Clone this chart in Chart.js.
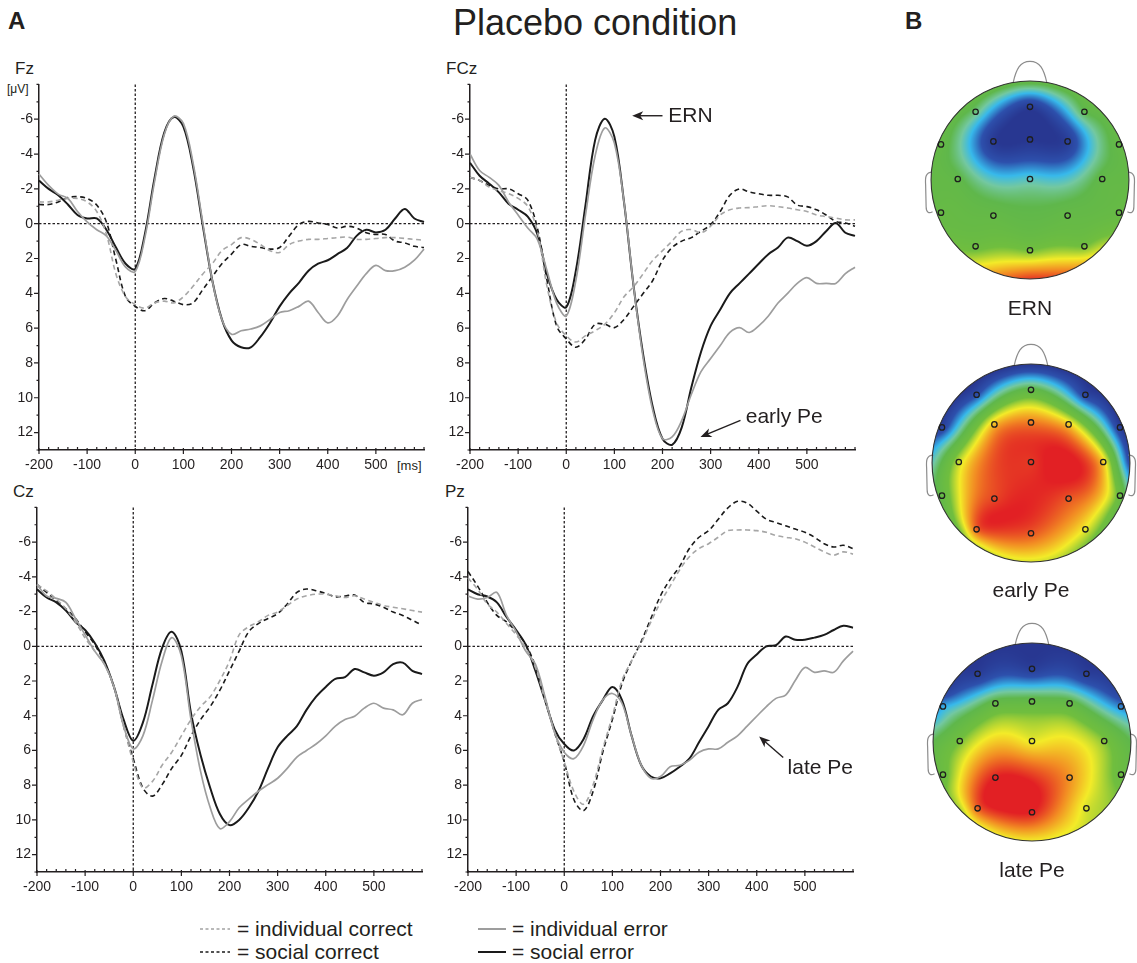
<!DOCTYPE html>
<html>
<head>
    <meta charset="utf-8">
    <title>Placebo condition</title>
    <script src="https://cdn.jsdelivr.net/npm/chart.js"></script>
    <style>
        body { margin: 0; width: 1137px; height: 963px; overflow: hidden; background: #fff;
               font-family: 'Liberation Sans', Arial, sans-serif; color: #231f20; position: relative; }
        .abs { position: absolute; line-height: 1; white-space: nowrap; }
        canvas { position: absolute; }
        .cap { position: absolute; line-height: 1; font-size: 21px; width: 200px; text-align: center; }
    </style>
</head>
<body>
<div class="abs" style="left:8px; top:9px; font-size:24px; font-weight:bold;">A</div>
<div class="abs" style="left:453px; top:5px; font-size:36px;">Placebo condition</div>
<div class="abs" style="left:905px; top:9px; font-size:24px; font-weight:bold;">B</div>

<div class="abs" style="left:15px; top:60px; font-size:17px;">Fz</div>
<div class="abs" style="left:7px; top:83px; font-size:12px;">[μV]</div>
<div class="abs" style="left:446px; top:60px; font-size:17px;">FCz</div>
<div class="abs" style="left:13px; top:483px; font-size:17px;">Cz</div>
<div class="abs" style="left:445px; top:483px; font-size:17px;">Pz</div>
<div class="abs" style="left:397px; top:459px; font-size:13px;">[ms]</div>

<canvas id="fz" width="440" height="410" style="left:0; top:70px;"></canvas>
<canvas id="fcz" width="440" height="410" style="left:431px; top:70px;"></canvas>
<canvas id="cz" width="440" height="409" style="left:0; top:493px;"></canvas>
<canvas id="pz" width="440" height="409" style="left:429px; top:493px;"></canvas>

<canvas id="topoErn" width="250" height="250" style="left:905px; top:55px;"></canvas>
<canvas id="topoEarly" width="250" height="250" style="left:906px; top:338px;"></canvas>
<canvas id="topoLate" width="250" height="250" style="left:907px; top:617px;"></canvas>
<div class="cap" style="left:930px; top:297px;">ERN</div>
<div class="cap" style="left:931px; top:579px;">early Pe</div>
<div class="cap" style="left:932px; top:859px;">late Pe</div>

<!-- legend -->
<svg class="abs" style="left:195px; top:918px;" width="320" height="45">
    <line x1="5" y1="11" x2="35" y2="11" stroke="#a3a3a3" stroke-width="1.6" stroke-dasharray="3,2.5"/>
    <line x1="5" y1="34" x2="35" y2="34" stroke="#1a1a1a" stroke-width="1.6" stroke-dasharray="3,2.5"/>
    <line x1="283" y1="11" x2="311" y2="11" stroke="#9d9d9d" stroke-width="2"/>
    <line x1="283" y1="34" x2="311" y2="34" stroke="#1a1a1a" stroke-width="2"/>
</svg>
<div class="abs" style="left:237px; top:918px; font-size:21px;">= individual correct</div>
<div class="abs" style="left:237px; top:941px; font-size:21px;">= social correct</div>
<div class="abs" style="left:512px; top:918px; font-size:21px;">= individual error</div>
<div class="abs" style="left:512px; top:941px; font-size:21px;">= social error</div>

<script>
    // time axis (ms) and tick labels
    const times = [-200,-180,-160,-140,-120,-100,-80,-60,-40,-20,0,20,40,60,80,100,120,140,160,180,200,
                   220,240,260,280,300,320,340,360,380,400,420,440,460,480,500,520,540,560,580,600];
    const xTicks = [-200,-100,0,100,200,300,400,500];
    const yTicks = [-6,-4,-2,0,2,4,6,8,10,12];

    // Fz
    const fzIndCorrect = [-1.25,-1.25,-1.35,-1.45,-1.45,-1.25,-0.7,0.6,2.9,4.2,4.65,4.85,4.55,4.45,4.55,4.2,3.6,2.9,2.3,1.55,1.2,
                          0.8,0.9,1.2,1.55,1.65,1.2,1.0,0.9,0.9,0.85,0.8,0.77,0.9,0.9,0.85,0.8,0.8,0.85,0.9,0.95];
    const fzSocCorrect = [-1.1,-1.1,-1.25,-1.5,-1.55,-1.45,-1.07,-0.1,2.1,4.2,4.75,5.0,4.55,4.3,4.45,4.65,4.55,3.8,3.05,2.3,1.75,
                          1.2,1.3,1.37,1.46,1.37,0.7,0.05,-0.13,-0.04,0.05,0.25,0.15,0.25,0.52,0.62,0.62,1.0,1.1,1.3,1.37];
    const fzIndError = [-2.85,-2.2,-1.7,-1.45,-0.7,-0.1,0.35,0.7,1.55,2.5,2.75,0.8,-2.4,-5.1,-6.17,-5.76,-3.5,-0.1,3.25,5.5,6.35,
                        6.15,6.05,5.87,5.5,5.1,5.0,4.75,4.45,5.1,5.7,5.3,4.37,3.6,2.87,2.4,2.7,2.7,2.5,2.1,1.46];
    const fzSocError = [-2.48,-2.0,-1.63,-1.1,-0.5,-0.3,-0.3,0.35,1.37,2.3,2.6,0.6,-2.6,-5.2,-6.13,-5.57,-3.3,0.05,3.25,5.5,6.7,
                        7.1,7.1,6.5,5.7,4.75,4.0,3.4,2.7,2.3,2.1,1.75,1.4,0.7,0.35,0.5,0.35,-0.3,-0.85,-0.3,-0.1];

    // FCz
    const fczIndCorrect = [-2.66,-2.48,-2.1,-1.9,-1.73,-1.45,-1.0,0.43,3.6,5.7,6.43,6.8,6.43,6.15,5.78,5.12,4.2,3.62,2.87,2.1,1.55,
                           1.0,0.43,0.34,0.52,0.15,-0.5,-0.8,-0.9,-0.92,-0.98,-1.03,-0.98,-0.9,-0.8,-0.7,-0.5,-0.41,-0.32,-0.22,-0.22];
    const fczSocCorrect = [-2.66,-2.48,-2.2,-2.0,-2.0,-1.72,-1.35,0.25,3.25,5.87,6.62,7.1,6.62,5.78,5.78,5.97,5.5,4.75,4.0,3.25,2.1,
                           1.37,1.0,0.8,0.43,0.06,-0.7,-1.63,-2.0,-1.82,-1.72,-1.63,-1.63,-1.54,-1.07,-0.98,-0.8,-0.5,-0.13,-0.04,0.15];
    const fczIndError = [-4.0,-3.05,-2.66,-2.2,-1.25,-0.5,0.25,0.9,2.7,4.56,5.3,3.25,-0.5,-3.9,-5.5,-4.63,-1.25,3.6,7.75,10.75,12.35,
                         12.25,11.3,9.8,8.5,7.75,7.0,6.25,5.97,6.25,5.87,5.3,4.56,4.0,3.43,3.1,3.43,3.43,3.43,2.87,2.5];
    const fczSocError = [-3.5,-2.75,-2.3,-1.8,-1.15,-0.8,-0.4,0.6,2.9,4.35,4.8,2.7,-1.07,-4.8,-6.03,-5.0,-1.25,3.6,7.55,10.56,12.35,
                         12.7,11.7,9.4,7.37,5.87,4.93,4.0,3.43,2.87,2.3,1.75,1.37,0.8,1.0,1.27,1.0,0.43,-0.04,0.52,0.7];

    // Cz
    const czIndCorrect = [-3.56,-3.19,-2.72,-2.16,-1.41,-0.47,0.28,1.03,2.34,4.6,6.66,8.16,7.78,6.85,6.1,5.16,4.22,3.47,2.9,1.97,0.84,
                          -0.66,-1.13,-1.41,-1.78,-1.97,-2.35,-2.72,-2.91,-3.0,-3.0,-2.91,-2.81,-2.91,-2.72,-2.53,-2.35,-2.25,-2.16,-2.06,-1.97];
    const czSocCorrect = [-3.56,-3.1,-2.63,-2.16,-1.6,-0.84,-0.09,0.94,2.34,4.6,6.47,8.16,8.63,7.97,7.03,6.28,5.16,4.22,3.47,2.53,1.41,
                          0.28,-0.84,-1.31,-1.6,-1.88,-2.44,-3.1,-3.3,-3.2,-3.05,-2.85,-2.9,-2.95,-2.53,-2.44,-2.25,-1.97,-1.78,-1.5,-1.22];
    const czIndError = [-3.56,-2.9,-2.76,-2.53,-1.6,-0.66,0.28,1.03,2.34,4.6,5.9,5.16,3.1,0.84,-0.5,0.56,4.22,7.22,9.3,10.5,10.1,
                        9.3,8.8,8.35,7.97,7.6,7.03,6.38,6.0,5.63,5.16,4.6,4.22,4.03,3.56,3.28,3.56,3.66,3.94,3.28,3.06];
    const czSocError = [-3.28,-2.81,-2.53,-2.06,-1.4,-0.94,-0.19,0.84,2.34,4.22,5.44,4.4,2.2,0.09,-0.84,0.28,3.85,6.28,8.16,9.66,10.3,
                        10.0,9.3,8.35,7.03,5.82,5.16,4.6,3.66,2.9,2.34,1.88,1.78,1.31,1.5,1.69,1.5,1.03,0.94,1.41,1.6];

    // Pz
    const pzIndCorrect = [-3.94,-3.28,-2.44,-1.97,-1.31,-0.66,0.09,1.22,3.1,4.97,6.66,8.35,9.1,7.97,5.91,4.03,1.97,0.84,-0.19,-1.41,-2.53,
                          -3.47,-4.41,-5.16,-5.63,-5.91,-6.28,-6.66,-6.7,-6.7,-6.66,-6.57,-6.38,-6.28,-6.19,-6.0,-5.72,-5.44,-5.25,-5.44,-5.31];
    const pzSocCorrect = [-4.31,-3.47,-2.53,-1.78,-1.41,-0.84,-0.09,1.13,3.0,4.97,6.66,8.82,9.47,8.35,6.1,4.22,2.16,0.84,-0.28,-1.6,-2.91,
                          -3.85,-4.6,-5.63,-6.28,-6.66,-7.32,-7.97,-8.35,-8.25,-7.78,-7.32,-7.13,-6.94,-6.75,-6.57,-6.28,-5.91,-5.72,-5.82,-5.63];
    const pzIndError = [-2.9,-2.72,-2.81,-3.1,-1.78,-0.84,0.28,1.03,2.9,4.97,6.1,6.47,5.72,4.22,3.1,2.72,3.28,5.16,6.85,7.6,7.5,
                        6.94,6.85,6.57,6.1,5.91,5.91,5.53,5.16,4.6,4.03,3.47,3.0,2.81,1.97,1.22,1.5,1.41,1.5,0.84,0.28];
    const pzSocError = [-3.28,-3.0,-2.87,-2.53,-1.69,-0.94,-0.09,1.41,3.1,4.78,5.63,6.0,5.35,4.03,3.1,2.34,3.1,5.16,6.85,7.5,7.6,
                        7.32,6.94,6.47,5.53,4.6,3.66,3.28,2.34,1.03,0.47,0.0,-0.06,-0.56,-0.38,-0.38,-0.5,-0.66,-0.94,-1.18,-1.07];

    // topographies: electrode layout (head radius = 1, nose up) and relative amplitude 0 (blue) .. 1 (red)
    const elecX = [-0.55,0,0.55, -0.9,-0.37,0,0.38,0.9, -0.73,0,0.73, -0.9,-0.37,0.38,0.9, -0.55,0,0.55];
    const elecY = [-0.69,-0.74,-0.69, -0.36,-0.39,-0.41,-0.39,-0.36, -0.01,-0.01,-0.01, 0.33,0.36,0.36,0.33, 0.67,0.71,0.67];
    const ernValues = [0.4,0.03,0.45, 0.5,0.02,0.0,0.04,0.5, 0.47,0.32,0.48, 0.52,0.5,0.5,0.52, 0.57,0.6,0.6];
    const earlyPeValues = [0.12,0.48,0.08, 0.06,0.8,0.88,0.78,0.04, 0.68,0.97,0.78, 0.5,0.95,0.93,0.55, 0.92,0.93,0.72];
    const latePeValues = [0.03,0.04,0.04, 0.25,0.5,0.5,0.5,0.2, 0.6,0.72,0.62, 0.55,1.0,0.85,0.55, 0.92,1.0,0.7];
    // scalp edge, degrees clockwise from the nose
    const rimAngles = [0,15,30,45,60,75,90,105,120,135,150,165,180,195,210,225,240,255,270,285,300,315,330,345];
    const ernRim = [0.5,0.5,0.5,0.5,0.5,0.5,0.5,0.52,0.58,0.7,0.82,0.93,0.97,0.88,0.74,0.6,0.53,0.5,0.5,0.5,0.5,0.5,0.5,0.5];
    const earlyPeRim = [0.0,0.0,0.0,0.0,0.0,0.02,0.1,0.38,0.5,0.56,0.62,0.68,0.7,0.7,0.68,0.6,0.5,0.44,0.33,0.15,0.03,0.0,0.0,0.0];
    const latePeRim = [0.0,0.0,0.0,0.02,0.08,0.28,0.45,0.52,0.6,0.66,0.7,0.72,0.73,0.73,0.72,0.66,0.6,0.52,0.45,0.26,0.08,0.02,0.0,0.0];

    Chart.defaults.font.family = "'Liberation Sans', Arial, sans-serif";
    Chart.defaults.font.size = 14;
    Chart.defaults.color = '#231f20';

    const ink = '#231f20';

    function drawArrow(ctx, x1, y1, x2, y2) {
        const a = Math.atan2(y2 - y1, x2 - x1), c = Math.cos(a), s = Math.sin(a);
        ctx.beginPath();
        ctx.moveTo(x1, y1);
        ctx.lineTo(x2 - 6 * c, y2 - 6 * s);
        ctx.stroke();
        ctx.beginPath();
        ctx.moveTo(x2, y2);
        ctx.lineTo(x2 - 11 * c + 4.5 * s, y2 - 11 * s - 4.5 * c);
        ctx.lineTo(x2 - 8 * c, y2 - 8 * s);
        ctx.lineTo(x2 - 11 * c - 4.5 * s, y2 - 11 * s + 4.5 * c);
        ctx.closePath();
        ctx.fill();
    }

    // zero lines, minor/major tick marks and annotations
    const erpDecor = {
        id: 'erpDecor',
        beforeDatasetsDraw(chart) {
            const {ctx, chartArea: ca, scales: {x, y}} = chart;
            const x0 = x.getPixelForValue(0), y0 = y.getPixelForValue(0);
            ctx.save();
            ctx.strokeStyle = ink;
            ctx.lineWidth = 1.3;
            ctx.setLineDash([2.5, 2]);
            ctx.beginPath();
            ctx.moveTo(ca.left, y0); ctx.lineTo(ca.right, y0);
            ctx.moveTo(x0, ca.top); ctx.lineTo(x0, ca.bottom);
            ctx.stroke();
            ctx.restore();
        },
        afterDraw(chart, args, opts) {
            const {ctx, chartArea: ca, scales: {x, y}} = chart;
            ctx.save();
            ctx.strokeStyle = ink;
            ctx.fillStyle = ink;
            ctx.lineWidth = 1.2;
            ctx.beginPath();
            for (let v = -8; v <= 13; v++) {
                const py = y.getPixelForValue(v);
                const len = yTicks.includes(v) ? 5 : 2.5;
                ctx.moveTo(ca.left - len, py); ctx.lineTo(ca.left, py);
            }
            for (let t = -200; t <= 600; t += 20) {
                const px = x.getPixelForValue(t);
                if (xTicks.includes(t)) { ctx.moveTo(px, ca.bottom - 2); ctx.lineTo(px, ca.bottom + 4); }
                else { ctx.moveTo(px, ca.bottom - 3); ctx.lineTo(px, ca.bottom); }
            }
            ctx.stroke();

            ctx.lineWidth = 1.4;
            ctx.font = "21px 'Liberation Sans', Arial, sans-serif";
            ctx.textBaseline = 'middle';
            ctx.textAlign = 'left';
            (opts.notes || []).forEach(n => {
                drawArrow(ctx, x.getPixelForValue(n.tail[0]), y.getPixelForValue(n.tail[1]),
                               x.getPixelForValue(n.head[0]), y.getPixelForValue(n.head[1]));
                ctx.fillText(n.text, x.getPixelForValue(n.at[0]), y.getPixelForValue(n.at[1]));
            });
            ctx.restore();
        }
    };

    function line(values, color, width, dashed) {
        return {
            data: times.map((t, i) => ({x: t, y: values[i]})),
            borderColor: color,
            borderWidth: width,
            borderDash: dashed ? [5, 3.5] : [],
            pointRadius: 0,
            tension: 0.35,
            fill: false,
            clip: false
        };
    }

    function erpChart(id, series, axisWidth, rightPad, notes) {
        return new Chart(document.getElementById(id), {
            type: 'line',
            data: {
                datasets: [
                    line(series[0], '#a6a6a6', 1.6, true),
                    line(series[2], '#9d9d9d', 1.7, false),
                    line(series[1], '#1a1a1a', 1.6, true),
                    line(series[3], '#1a1a1a', 2.0, false)
                ]
            },
            options: {
                responsive: false,
                animation: false,
                devicePixelRatio: 1,
                layout: {padding: {top: 7, right: rightPad, left: 0, bottom: 0}},
                plugins: {legend: {display: false}, tooltip: {enabled: false}, erpDecor: {notes: notes}},
                scales: {
                    x: {
                        type: 'linear', min: -200, max: 600,
                        grid: {display: false, drawTicks: false},
                        border: {display: true, color: ink, width: 1.5},
                        afterBuildTicks: s => { s.ticks = xTicks.map(v => ({value: v})); },
                        afterFit: s => { s.height = 30; },
                        ticks: {autoSkip: false, maxRotation: 0, padding: 7}
                    },
                    y: {
                        type: 'linear', min: -8, max: 13, reverse: true,
                        grid: {display: false, drawTicks: false},
                        border: {display: true, color: ink, width: 1.5},
                        afterBuildTicks: s => { s.ticks = yTicks.map(v => ({value: v})); },
                        afterFit: s => { s.width = axisWidth; },
                        ticks: {padding: 6}
                    }
                }
            },
            plugins: [erpDecor]
        });
    }

    erpChart('fz', [fzIndCorrect, fzSocCorrect, fzIndError, fzSocError], 39, 16, []);
    erpChart('fcz', [fczIndCorrect, fczSocCorrect, fczIndError, fczSocError], 39, 16, [
        {text: 'ERN', head: [137, -6.2], tail: [200, -6.2], at: [212, -6.2]},
        {text: 'early Pe', head: [279, 12.25], tail: [362, 11.3], at: [373, 11.1]}
    ]);
    erpChart('cz', [czIndCorrect, czSocCorrect, czIndError, czSocError], 37, 18, []);
    erpChart('pz', [pzIndCorrect, pzSocCorrect, pzIndError, pzSocError], 39, 16, [
        {text: 'late Pe', head: [405, 5.2], tail: [455, 6.4], at: [464, 7.0]}
    ]);

    // blue - cyan - green - yellow - red
    const cmap = [
        [0.00, [40, 55, 145]], [0.14, [45, 80, 172]], [0.27, [55, 185, 235]], [0.36, [115, 200, 160]],
        [0.45, [95, 183, 75]], [0.60, [112, 190, 62]], [0.73, [243, 235, 40]], [0.86, [242, 140, 35]],
        [1.00, [226, 32, 36]]
    ];
    function colorAt(v) {
        v = Math.max(0, Math.min(1, v));
        for (let i = 1; i < cmap.length; i++) {
            if (v <= cmap[i][0]) {
                const [a, ca] = cmap[i - 1], [b, cb] = cmap[i], f = (v - a) / (b - a);
                return [0, 1, 2].map(k => ca[k] + (cb[k] - ca[k]) * f);
            }
        }
        return cmap[cmap.length - 1][1];
    }

    // thin plate spline through the electrode and scalp-edge values
    const tpsU = d2 => d2 > 0 ? 0.5 * d2 * Math.log(d2) : 0;
    function fitSpline(nodes) {
        const n = nodes.length, m = n + 3;
        const A = [], b = [];
        for (let i = 0; i < m; i++) { A.push(new Array(m).fill(0)); b.push(0); }
        for (let i = 0; i < n; i++) {
            for (let j = 0; j < n; j++) {
                const dx = nodes[i][0] - nodes[j][0], dy = nodes[i][1] - nodes[j][1];
                A[i][j] = tpsU(dx * dx + dy * dy) + (i === j ? 0.002 : 0);
            }
            A[i][n] = 1; A[i][n + 1] = nodes[i][0]; A[i][n + 2] = nodes[i][1];
            A[n][i] = 1; A[n + 1][i] = nodes[i][0]; A[n + 2][i] = nodes[i][1];
            b[i] = nodes[i][2];
        }
        for (let c = 0; c < m; c++) {
            let p = c;
            for (let r = c + 1; r < m; r++) if (Math.abs(A[r][c]) > Math.abs(A[p][c])) p = r;
            [A[c], A[p]] = [A[p], A[c]]; [b[c], b[p]] = [b[p], b[c]];
            for (let r = c + 1; r < m; r++) {
                const f = A[r][c] / A[c][c];
                for (let k = c; k < m; k++) A[r][k] -= f * A[c][k];
                b[r] -= f * b[c];
            }
        }
        const w = new Array(m).fill(0);
        for (let r = m - 1; r >= 0; r--) {
            let s = b[r];
            for (let k = r + 1; k < m; k++) s -= A[r][k] * w[k];
            w[r] = s / A[r][r];
        }
        return (x, y) => {
            let s = w[n] + w[n + 1] * x + w[n + 2] * y;
            for (let i = 0; i < n; i++) {
                const dx = x - nodes[i][0], dy = y - nodes[i][1];
                s += w[i] * tpsU(dx * dx + dy * dy);
            }
            return s;
        };
    }

    const topoField = {
        id: 'topoField',
        beforeDatasetsDraw(chart, args, opts) {
            const {ctx, scales: {x, y}} = chart;
            const cx = x.getPixelForValue(0), cy = y.getPixelForValue(0);
            const r = x.getPixelForValue(1) - cx;
            const nodes = elecX.map((ex, i) => [ex, elecY[i], opts.values[i]])
                .concat(rimAngles.map((a, i) => [Math.sin(a * Math.PI / 180), -Math.cos(a * Math.PI / 180), opts.rim[i]]));
            const f = fitSpline(nodes);
            const size = Math.ceil(2 * r) + 4;
            const off = document.createElement('canvas');
            off.width = size; off.height = size;
            const octx = off.getContext('2d');
            const img = octx.createImageData(size, size);
            const ox = cx - size / 2, oy = cy - size / 2;
            for (let j = 0; j < size; j++) {
                for (let i = 0; i < size; i++) {
                    const dx = (ox + i + 0.5 - cx) / r, dy = (oy + j + 0.5 - cy) / r;
                    const d = Math.sqrt(dx * dx + dy * dy);
                    const alpha = Math.max(0, Math.min(1, (1 - d) * r + 0.5));
                    if (alpha <= 0) continue;
                    const c = colorAt(f(dx, dy));
                    const p = (j * size + i) * 4;
                    img.data[p] = c[0]; img.data[p + 1] = c[1]; img.data[p + 2] = c[2];
                    img.data[p + 3] = alpha * 255;
                }
            }
            octx.putImageData(img, 0, 0);
            ctx.drawImage(off, ox, oy);

            ctx.save();
            const px = vx => cx + vx * r, py = vy => cy + vy * r;
            ctx.strokeStyle = '#8c8c8c';
            ctx.lineWidth = 1.2;
            // nose
            ctx.beginPath();
            ctx.moveTo(px(-0.17), py(-0.985));
            ctx.bezierCurveTo(px(-0.14), py(-1.12), px(-0.1), py(-1.2), px(0), py(-1.2));
            ctx.bezierCurveTo(px(0.1), py(-1.2), px(0.14), py(-1.12), px(0.17), py(-0.985));
            ctx.stroke();
            // ears
            [-1, 1].forEach(sd => {
                ctx.beginPath();
                ctx.moveTo(px(sd * 0.985), py(-0.08));
                ctx.bezierCurveTo(px(sd * 1.06), py(-0.08), px(sd * 1.06), py(-0.02), px(sd * 1.055), py(0.05));
                ctx.lineTo(px(sd * 1.05), py(0.27));
                ctx.bezierCurveTo(px(sd * 1.05), py(0.33), px(sd * 1.02), py(0.34), px(sd * 0.985), py(0.32));
                ctx.stroke();
            });
            ctx.strokeStyle = '#333';
            ctx.lineWidth = 1.1;
            ctx.beginPath();
            ctx.arc(cx, cy, r, 0, Math.PI * 2);
            ctx.stroke();
            ctx.restore();
        }
    };

    function topoChart(id, values, rim) {
        return new Chart(document.getElementById(id), {
            type: 'scatter',
            data: {
                datasets: [{
                    data: elecX.map((ex, i) => ({x: ex, y: elecY[i]})),
                    pointRadius: 2.7,
                    pointBorderWidth: 1.3,
                    pointBorderColor: '#1e1e1e',
                    pointBackgroundColor: 'rgba(0,0,0,0)'
                }]
            },
            options: {
                responsive: false,
                animation: false,
                devicePixelRatio: 1,
                layout: {padding: 0},
                plugins: {legend: {display: false}, tooltip: {enabled: false}, topoField: {values: values, rim: rim}},
                scales: {
                    x: {type: 'linear', min: -1.21, max: 1.21, display: false},
                    y: {type: 'linear', min: -1.21, max: 1.21, reverse: true, display: false}
                }
            },
            plugins: [topoField]
        });
    }

    topoChart('topoErn', ernValues, ernRim);
    topoChart('topoEarly', earlyPeValues, earlyPeRim);
    topoChart('topoLate', latePeValues, latePeRim);
</script>
</body>
</html>
